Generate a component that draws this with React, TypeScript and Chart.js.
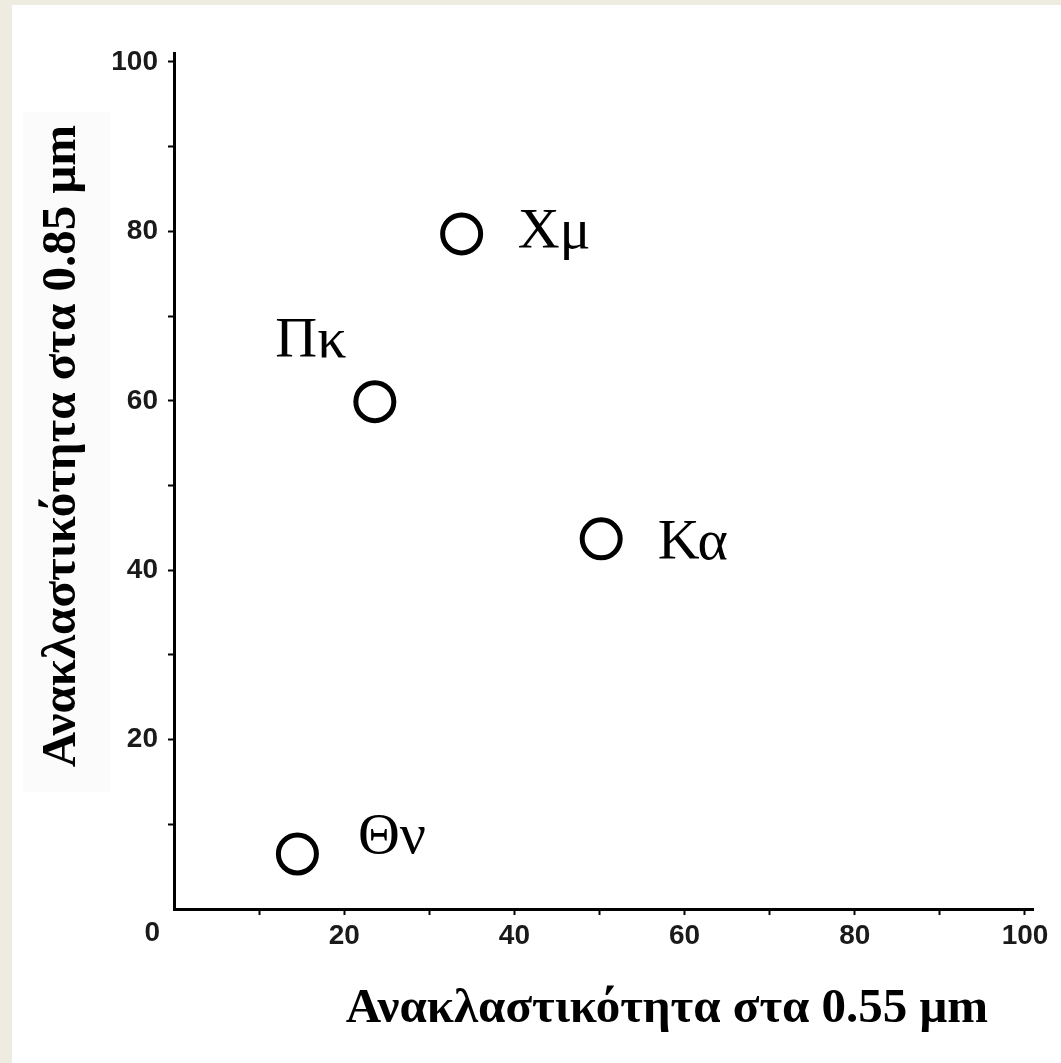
import React, { useEffect, useRef } from "react";
import { Chart, registerables } from "chart.js";

Chart.register(...registerables);

// ---- data ----
const siteLabels = ["Χμ", "Πκ", "Κα", "Θν"];
const reflectance055 = [33.8, 23.6, 50.2, 14.5];
const reflectance085 = [79.7, 59.9, 43.7, 6.5];
const xTickLabels = [20, 40, 60, 80, 100];
const yTickLabels = [20, 40, 60, 80, 100];
const originLabel = "0";
const xTitle = "Ανακλαστικότητα στα 0.55 μm";
const yTitle = "Ανακλαστικότητα στα 0.85 μm";

// ---- style (label offsets relative to each marker, in px) ----
const labelOffsets: [number, number][] = [
  [56, 14],
  [-99.5, -44.5],
  [56.5, 20],
  [60.5, -1],
];

const W = 1061;
const H = 1063;

const decorPlugin = {
  id: "decor",
  beforeDraw(chart: any) {
    const ctx = chart.ctx;
    ctx.save();
    ctx.fillStyle = "#eeebe1";
    ctx.fillRect(0, 0, chart.width, chart.height);
    ctx.fillStyle = "#ffffff";
    ctx.fillRect(12, 5, chart.width - 12, chart.height - 5);
    ctx.fillStyle = "#fbfbfb";
    ctx.fillRect(23, 112, 87, 680);
    ctx.restore();
  },
  afterDraw(chart: any) {
    const ctx = chart.ctx;
    const xs = chart.scales.x;
    const ys = chart.scales.y;
    ctx.save();
    // point labels
    const meta = chart.getDatasetMeta(0);
    ctx.fillStyle = "#000";
    ctx.font = '58px "Liberation Serif"';
    ctx.textAlign = "left";
    ctx.textBaseline = "alphabetic";
    meta.data.forEach((pt: any, i: number) => {
      const off = labelOffsets[i] || [0, 0];
      ctx.fillText(siteLabels[i], pt.x + off[0], pt.y + off[1]);
    });
    // origin label
    ctx.font = 'bold 28px "Liberation Sans"';
    ctx.fillStyle = "#1a1a1a";
    ctx.textAlign = "right";
    ctx.textBaseline = "top";
    ctx.fillText(originLabel, xs.getPixelForValue(0) - 14, ys.bottom + 10);
    // x title
    ctx.font = 'bold 49px "Liberation Serif"';
    ctx.fillStyle = "#000";
    ctx.textAlign = "center";
    ctx.textBaseline = "alphabetic";
    ctx.fillText(xTitle, 667, 1022);
    // y title
    ctx.translate(75, 446);
    ctx.rotate(-Math.PI / 2);
    ctx.fillText(yTitle, 0, 0);
    ctx.restore();
  },
};

export default function App() {
  const canvasRef = useRef<HTMLCanvasElement | null>(null);

  useEffect(() => {
    if (!canvasRef.current) return;
    const tickFont = { family: "Liberation Sans", size: 28, weight: "bold" as const };
    const tickColorFn = (c: any) =>
      c.tick && c.tick.value === 0 ? "rgba(0,0,0,0)" : "#000";
    const chart = new Chart(canvasRef.current, {
      type: "scatter",
      data: {
        datasets: [
          {
            data: reflectance055.map((x, i) => ({ x, y: reflectance085[i] })),
            pointStyle: "circle",
            pointRadius: 19,
            pointHoverRadius: 19,
            borderWidth: 5,
            borderColor: "#000",
            backgroundColor: "#fff",
          },
        ],
      },
      options: {
        animation: false,
        responsive: false,
        maintainAspectRatio: false,
        layout: { padding: { top: 53.5, right: 27.5, left: 0, bottom: 0 } },
        plugins: {
          legend: { display: false },
          tooltip: { enabled: false },
          title: { display: false },
        },
        scales: {
          x: {
            type: "linear",
            min: 0,
            max: 101,
            afterFit: (s: any) => {
              s.height = 154;
            },
            border: { display: true, color: "#000", width: 3 },
            grid: {
              drawOnChartArea: false,
              drawTicks: true,
              tickLength: 6,
              tickWidth: 2,
              tickColor: tickColorFn,
            },
            ticks: {
              stepSize: 10,
              includeBounds: false,
              autoSkip: false,
              maxRotation: 0,
              padding: 4,
              color: "#1a1a1a",
              font: tickFont,
              callback: (v: any) => (xTickLabels.includes(Number(v)) ? String(v) : ""),
            },
          },
          y: {
            type: "linear",
            min: 0,
            max: 101,
            afterFit: (s: any) => {
              s.width = 174;
            },
            border: { display: true, color: "#000", width: 3 },
            grid: {
              drawOnChartArea: false,
              drawTicks: true,
              tickLength: 6,
              tickWidth: 2,
              tickColor: tickColorFn,
            },
            ticks: {
              stepSize: 10,
              includeBounds: false,
              autoSkip: false,
              padding: 10,
              color: "#1a1a1a",
              font: tickFont,
              callback: (v: any) => (yTickLabels.includes(Number(v)) ? String(v) : ""),
            },
          },
        },
      } as any,
      plugins: [decorPlugin],
    });
    return () => chart.destroy();
  }, []);

  return (
    <div style={{ position: "fixed", left: 0, top: 0, width: W, height: H }}>
      <canvas
        ref={canvasRef}
        width={W}
        height={H}
        style={{ display: "block", width: W, height: H }}
      />
    </div>
  );
}
